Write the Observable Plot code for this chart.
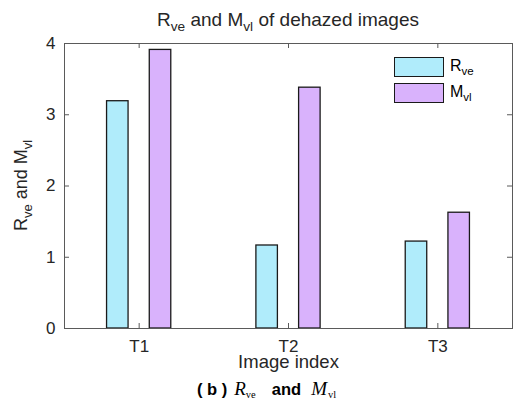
<!DOCTYPE html>
<html><head><meta charset="utf-8">
<script src="https://cdn.jsdelivr.net/npm/d3@7"></script>
<script src="https://cdn.jsdelivr.net/npm/@observablehq/plot@0.6"></script>
<style>
body{margin:0;background:#fff;}
#c{position:relative;width:513px;height:402px;overflow:hidden;font-family:"Liberation Sans",Arial,sans-serif;color:#262626;}
#c svg{position:absolute;left:0;top:0;}
.ov{position:absolute;white-space:nowrap;line-height:1;}
.sub{font-size:0.72em;position:relative;top:0.38em;}
.it{font-family:"Liberation Serif",serif;font-style:italic;font-size:19px;}
.cs{font-family:"Liberation Serif",serif;font-size:10.5px;position:relative;top:3px;}
</style></head><body><div id="c"></div>
<script>
const images = ["T1", "T2", "T3"];
const rve = [3.19, 1.165, 1.22];
const mvl = [3.91, 3.38, 1.625];
const yTicks = [0, 1, 2, 3, 4];
const seriesNames = ["Rve", "Mvl"];
const seriesColors = ["#b0ecfb", "#d9b2fc"];

const rows = images.flatMap((t, i) => [
  {idx: i + 1, s: 0, v: rve[i]},
  {idx: i + 1, s: 1, v: mvl[i]}
]);
const off = [-0.143, 0.143], hw = 0.072;
const axc = "#5a5a5a";
const W = 513, H = 402, mT = 43, mB = 74, mL = 64, mR = 1;
const fw = W - mL - mR, fh = H - mT - mB, tk = 5;

const plot = Plot.plot({
  width: W, height: H,
  marginTop: mT, marginBottom: mB, marginLeft: mL, marginRight: mR,
  style: {fontFamily: "'Liberation Sans', Arial, sans-serif", fontSize: "17px", color: "#262626", background: "white"},
  x: {type: "linear", domain: [0.5, 3.5]},
  y: {domain: [0, 4]},
  marks: [
    Plot.rectY(rows, {
      x1: d => d.idx + off[d.s] - hw,
      x2: d => d.idx + off[d.s] + hw,
      y: "v",
      fill: d => seriesColors[d.s],
      stroke: "#1a1a1a", strokeWidth: 1.3
    }),
    Plot.frame({stroke: axc, strokeWidth: 1}),
    // inward ticks
    Plot.tickY(yTicks, {y: d => d, stroke: axc, insetRight: fw - tk}),
    Plot.tickY(yTicks, {y: d => d, stroke: axc, insetLeft: fw - tk}),
    Plot.tickX([1, 2, 3], {x: d => d, stroke: axc, insetTop: fh - tk}),
    Plot.tickX([1, 2, 3], {x: d => d, stroke: axc, insetBottom: fh - tk}),
    Plot.axisY(yTicks, {anchor: "left", tickSize: 0, tickPadding: 9, label: null, fontSize: 17, tickFormat: d3.format("d")}),
    Plot.axisX([1, 2, 3], {anchor: "bottom", tickSize: 0, tickPadding: 11, label: null, fontSize: 17, tickFormat: d => images[d - 1]}),
    Plot.text(["Image index"], {frameAnchor: "bottom", dy: 39, fontSize: 18.5, fill: "#262626"})
  ]
});
const c = document.getElementById("c");
c.appendChild(plot);

// y-axis label with subscripts
const svg = d3.select(plot);
const yl = svg.append("text")
  .attr("transform", "translate(27,185.5) rotate(-90)")
  .attr("text-anchor", "middle")
  .attr("fill", "#262626")
  .style("font-size", "18px")
  .style("font-family", "'Liberation Sans', Arial, sans-serif");
yl.append("tspan").text("R");
yl.append("tspan").attr("dy", 5).style("font-size", "13px").text("ve");
yl.append("tspan").attr("dy", -5).text(" and M");
yl.append("tspan").attr("dy", 5).style("font-size", "13px").text("vl");

function ov(html, css) {
  const d = document.createElement("div");
  d.className = "ov";
  d.innerHTML = html;
  Object.assign(d.style, css);
  c.appendChild(d);
  return d;
}
// title
ov('R<span class="sub">ve</span> and M<span class="sub">vl</span> of dehazed images',
   {left: "0px", width: "576px", textAlign: "center", top: "10px", fontSize: "19px", color: "#262626"});
// legend
seriesNames.forEach((n, i) => {
  const top = 57 + i * 26;
  ov('', {left: "394px", top: top + "px", width: "48px", height: "18px", background: seriesColors[i], border: "1px solid #1a1a1a"});
  ov(n[0] + '<span class="sub">' + n.slice(1) + '</span>', {left: "450px", top: (top + 1) + "px", fontSize: "16px", color: "#000"});
});
// caption
ov('<b style="white-space:pre">( b )</b><span class="it" style="margin-left:7px">R</span><span class="cs">ve</span>' +
   '<b style="margin:0 10px 0 16px">and</b><span class="it">M</span><span class="cs" style="margin-left:1px">vl</span>',
   {left: "197px", top: "379px", fontSize: "16.5px", color: "#000"});
</script>
</body></html>
